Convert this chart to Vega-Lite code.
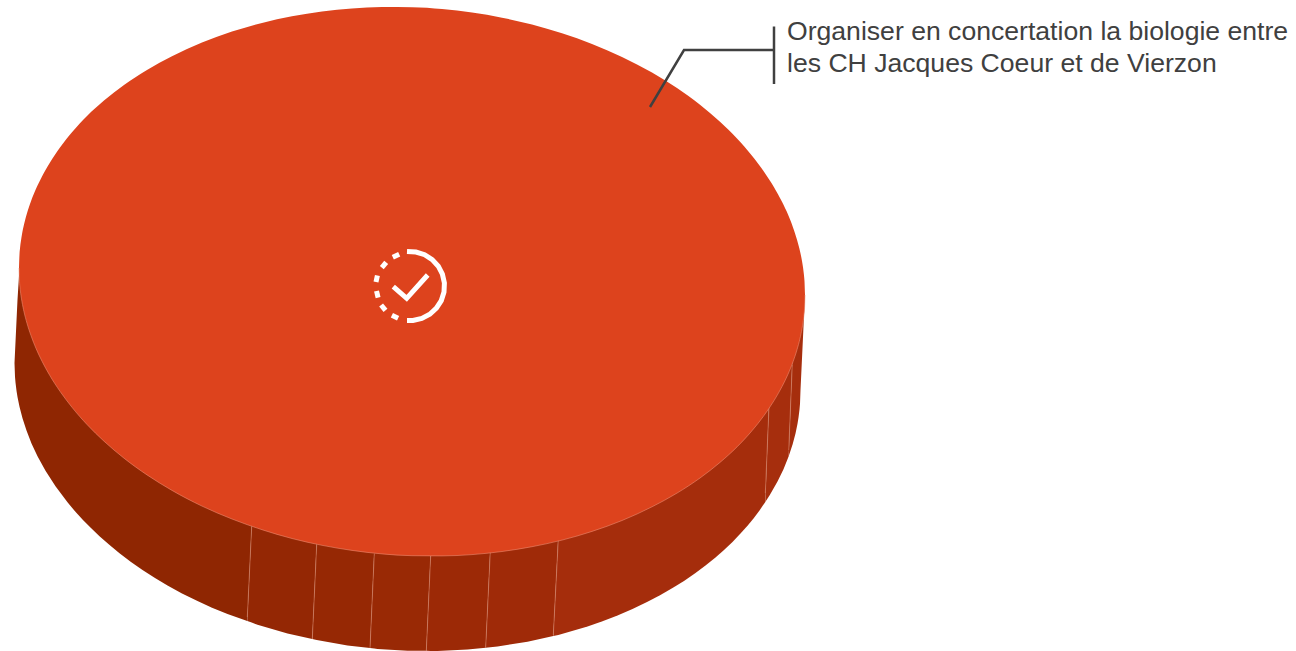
{"$schema":"https://vega.github.io/schema/vega-lite/v6.json","width":1296,"height":651,"autosize":{"type":"none"},"padding":0,"background":"white","view":{"stroke":null},
"datasets":{
"wall":[
{"seg":"A","x":14.5,"y":363,"y2":363},{"seg":"A","x":15,"y":352.4,"y2":376.8},{"seg":"A","x":15.5,"y":341.9,"y2":382.5},{"seg":"A","x":16.5,"y":320.8,"y2":390.7},{"seg":"A","x":17.5,"y":299.7,"y2":396.9},{"seg":"A","x":19.5,"y":268,"y2":406.8},{"seg":"A","x":22.5,"y":280,"y2":418.3},{"seg":"A","x":26.5,"y":300,"y2":430.6},{"seg":"A","x":31.5,"y":300,"y2":443.4},{"seg":"A","x":37.5,"y":300,"y2":456.2},{"seg":"A","x":45.5,"y":300,"y2":470.8},{"seg":"A","x":55.5,"y":300,"y2":486.3},{"seg":"A","x":67.5,"y":300,"y2":502.3},{"seg":"A","x":75,"y":300,"y2":511.3},{"seg":"A","x":82.5,"y":300,"y2":519.5},{"seg":"A","x":91,"y":300,"y2":528.1},{"seg":"A","x":99.5,"y":300,"y2":536.2},{"seg":"A","x":109,"y":300,"y2":544.6},{"seg":"A","x":119.5,"y":300,"y2":553.2},{"seg":"A","x":131,"y":300,"y2":561.9},{"seg":"A","x":142.5,"y":300,"y2":569.9},{"seg":"A","x":155,"y":300,"y2":577.9},{"seg":"A","x":167.5,"y":300,"y2":585.4},{"seg":"A","x":182,"y":300,"y2":593.4},{"seg":"A","x":197.5,"y":300,"y2":601.1},{"seg":"A","x":212,"y":300,"y2":607.7},{"seg":"A","x":227.5,"y":300,"y2":614},{"seg":"A","x":247.3,"y":300,"y2":621.1},{"seg":"A","x":251.7,"y":524,"y2":524},
{"seg":"B","x":247.3,"y":621.1,"y2":621.1},{"seg":"B","x":251.7,"y":524,"y2":622.6},{"seg":"B","x":257.5,"y":300,"y2":624.7},{"seg":"B","x":287.5,"y":300,"y2":633.5},{"seg":"B","x":312.3,"y":300,"y2":639.1},{"seg":"B","x":316.7,"y":541,"y2":541},
{"seg":"C","x":312.3,"y":639.1,"y2":639.1},{"seg":"C","x":316.7,"y":541,"y2":640.1},{"seg":"C","x":347.5,"y":300,"y2":645.4},{"seg":"C","x":370,"y":300,"y2":648},{"seg":"C","x":374.3,"y":550,"y2":550},
{"seg":"D","x":370,"y":648,"y2":648},{"seg":"D","x":374.3,"y":550,"y2":648.5},{"seg":"D","x":377.5,"y":300,"y2":648.9},{"seg":"D","x":407.5,"y":300,"y2":650.7},{"seg":"D","x":426.3,"y":300,"y2":650.8},{"seg":"D","x":430.7,"y":552,"y2":552},
{"seg":"E","x":426.3,"y":650.8,"y2":650.8},{"seg":"E","x":430.7,"y":552,"y2":650.9},{"seg":"E","x":437.5,"y":300,"y2":650.9},{"seg":"E","x":467.5,"y":300,"y2":649.6},{"seg":"E","x":485.7,"y":300,"y2":647.7},{"seg":"E","x":490.3,"y":548,"y2":548},
{"seg":"F","x":485.7,"y":647.7,"y2":647.7},{"seg":"F","x":490.3,"y":548,"y2":647.2},{"seg":"F","x":497.5,"y":300,"y2":646.5},{"seg":"F","x":527.5,"y":300,"y2":641.7},{"seg":"F","x":553.3,"y":300,"y2":636},{"seg":"F","x":558.3,"y":536,"y2":536},
{"seg":"G","x":553.3,"y":636,"y2":636},{"seg":"G","x":558.3,"y":536,"y2":634.9},{"seg":"G","x":587.5,"y":300,"y2":626.4},{"seg":"G","x":602.5,"y":300,"y2":621.3},{"seg":"G","x":617.5,"y":300,"y2":615.5},{"seg":"G","x":632.5,"y":300,"y2":609},{"seg":"G","x":647.5,"y":300,"y2":601.8},{"seg":"G","x":660,"y":300,"y2":595.3},{"seg":"G","x":672.5,"y":300,"y2":588.1},{"seg":"G","x":684,"y":300,"y2":580.9},{"seg":"G","x":695.5,"y":300,"y2":573},{"seg":"G","x":705.5,"y":300,"y2":565.5},{"seg":"G","x":715.5,"y":300,"y2":557.4},{"seg":"G","x":724,"y":300,"y2":549.9},{"seg":"G","x":732.5,"y":300,"y2":541.9},{"seg":"G","x":740,"y":300,"y2":534.1},{"seg":"G","x":747.5,"y":300,"y2":525.7},{"seg":"G","x":753.5,"y":300,"y2":518.4},{"seg":"G","x":759.5,"y":300,"y2":510.5},{"seg":"G","x":765.3,"y":300,"y2":501.9},{"seg":"G","x":769,"y":402,"y2":402},
{"seg":"H","x":765.3,"y":501.9,"y2":501.9},{"seg":"H","x":769,"y":402,"y2":496.3},{"seg":"H","x":769.5,"y":300,"y2":495.6},{"seg":"H","x":777.5,"y":300,"y2":481.6},{"seg":"H","x":783.5,"y":300,"y2":469.2},{"seg":"H","x":788.7,"y":300,"y2":456.2},{"seg":"H","x":792.3,"y":360,"y2":360},
{"seg":"I","x":788.7,"y":456.2,"y2":456.2},{"seg":"I","x":792.3,"y":360,"y2":445.3},{"seg":"I","x":792.5,"y":300,"y2":444.7},{"seg":"I","x":795.5,"y":300,"y2":433.4},{"seg":"I","x":797.5,"y":300,"y2":423.7},{"seg":"I","x":798.5,"y":300,"y2":417.5},{"seg":"I","x":799.5,"y":300,"y2":409.5},{"seg":"I","x":800,"y":300,"y2":403.8},{"seg":"I","x":800.5,"y":300,"y2":390},{"seg":"I","x":805,"y":295,"y2":295}],
"top":[
{"x":19,"y":268,"y2":268},{"x":19.5,"y":254.2,"y2":281.8},{"x":20,"y":248.5,"y2":287.5},{"x":21,"y":240.5,"y2":295.7},{"x":22,"y":234.3,"y2":301.9},{"x":24,"y":224.6,"y2":311.8},{"x":27,"y":213.3,"y2":323.3},{"x":31,"y":201.2,"y2":335.6},{"x":36,"y":188.8,"y2":348.4},{"x":42,"y":176.4,"y2":361.2},{"x":50,"y":162.4,"y2":375.8},{"x":60,"y":147.5,"y2":391.3},{"x":72,"y":132.3,"y2":407.3},{"x":87,"y":116.1,"y2":424.5},{"x":104,"y":100.6,"y2":441.2},{"x":124,"y":85,"y2":458.2},{"x":147,"y":69.9,"y2":474.9},{"x":172,"y":56.2,"y2":490.4},{"x":202,"y":42.5,"y2":506.1},{"x":232,"y":31.6,"y2":519},{"x":262,"y":22.9,"y2":529.7},{"x":292,"y":16.3,"y2":538.5},{"x":322,"y":11.5,"y2":545.3},{"x":352,"y":8.4,"y2":550.4},{"x":382,"y":7.1,"y2":553.9},{"x":412,"y":7.3,"y2":555.7},{"x":442,"y":9.1,"y2":555.9},{"x":472,"y":12.6,"y2":554.6},{"x":502,"y":17.7,"y2":551.5},{"x":532,"y":24.5,"y2":546.7},{"x":562,"y":33.3,"y2":540.1},{"x":592,"y":44,"y2":531.4},{"x":622,"y":56.9,"y2":520.5},{"x":652,"y":72.6,"y2":506.8},{"x":677,"y":88.1,"y2":493.1},{"x":700,"y":104.8,"y2":478},{"x":720,"y":121.8,"y2":462.4},{"x":737,"y":138.5,"y2":446.9},{"x":752,"y":155.7,"y2":430.7},{"x":764,"y":171.7,"y2":415.5},{"x":774,"y":187.2,"y2":400.6},{"x":782,"y":201.8,"y2":386.6},{"x":788,"y":214.6,"y2":374.2},{"x":793,"y":227.4,"y2":361.8},{"x":797,"y":239.7,"y2":349.7},{"x":800,"y":251.2,"y2":338.4},{"x":802,"y":261.1,"y2":328.7},{"x":803,"y":267.3,"y2":322.5},{"x":804,"y":275.5,"y2":314.5},{"x":804.5,"y":281.2,"y2":308.8},{"x":805,"y":295,"y2":295}],
"seams":[
{"s":"1","x":251.7,"y":527},{"s":"1","x":247.3,"y":617},
{"s":"2","x":316.7,"y":545},{"s":"2","x":312.3,"y":639},
{"s":"3","x":374.3,"y":554},{"s":"3","x":370,"y":648},
{"s":"4","x":430.7,"y":556},{"s":"4","x":426.3,"y":651},
{"s":"5","x":490.3,"y":552},{"s":"5","x":485.7,"y":647},
{"s":"6","x":558.3,"y":540},{"s":"6","x":553.3,"y":635},
{"s":"7","x":769,"y":407},{"s":"7","x":765.3,"y":493},
{"s":"8","x":792.3,"y":365},{"s":"8","x":788.7,"y":450}],
"icon":[
{"p":"arc","i":0,"x":407,"y":251.6},{"p":"arc","i":1,"x":416,"y":252},{"p":"arc","i":2,"x":424.6,"y":254.7},{"p":"arc","i":3,"x":432.2,"y":259.6},{"p":"arc","i":4,"x":438.3,"y":266.2},{"p":"arc","i":5,"x":442.4,"y":274.2},{"p":"arc","i":6,"x":444.4,"y":283},{"p":"arc","i":7,"x":444,"y":292},{"p":"arc","i":8,"x":441.3,"y":300.6},{"p":"arc","i":9,"x":436.4,"y":308.2},{"p":"arc","i":10,"x":429.8,"y":314.3},{"p":"arc","i":11,"x":421.8,"y":318.4},{"p":"arc","i":12,"x":413,"y":320.4},{"p":"arc","i":13,"x":407,"y":320.4},
{"p":"d1","i":0,"x":392.8,"y":257.2},{"p":"d1","i":1,"x":399.2,"y":254.2},
{"p":"d2","i":0,"x":381.8,"y":267.7},{"p":"d2","i":1,"x":386.2,"y":262.3},
{"p":"d3","i":0,"x":376,"y":282},{"p":"d3","i":1,"x":377.4,"y":275.4},
{"p":"d4","i":0,"x":378.1,"y":297.6},{"p":"d4","i":1,"x":376.5,"y":291},
{"p":"d5","i":0,"x":381.1,"y":305},{"p":"d5","i":1,"x":385.5,"y":310.4},
{"p":"d6","i":0,"x":391.9,"y":315.2},{"p":"d6","i":1,"x":398.1,"y":318.2},
{"p":"check","i":0,"x":393.3,"y":286.7},{"p":"check","i":1,"x":406.7,"y":298.3},{"p":"check","i":2,"x":427.7,"y":275}],
"leader":[
{"p":"elbow","i":0,"x":650,"y":107},{"p":"elbow","i":1,"x":684,"y":50},{"p":"elbow","i":2,"x":774,"y":50},
{"p":"bar","i":0,"x":774,"y":26.5},{"p":"bar","i":1,"x":774,"y":84}],
"labels":[
{"x":787,"y":40,"label":"Organiser en concertation la biologie entre"},
{"x":787,"y":72,"label":"les CH Jacques Coeur et de Vierzon"}]
},
"encoding":{
"x":{"field":"x","type":"quantitative","scale":{"domain":[0,1296],"nice":false,"zero":false},"axis":null},
"y":{"field":"y","type":"quantitative","scale":{"domain":[651,0],"nice":false,"zero":false},"axis":null}},
"layer":[
{"data":{"name":"wall"},"mark":{"type":"area","interpolate":"linear"},"encoding":{"y2":{"field":"y2"},"color":{"field":"seg","type":"nominal","legend":null,"scale":{"domain":["A","B","C","D","E","F","G","H","I"],"range":["#8f2602","#942704","#962804","#992905","#9c2906","#9f2a08","#a52d0c","#a62e0d","#a62e0d"]}}}},
{"data":{"name":"seams"},"mark":{"type":"line","stroke":"#d98a70","strokeWidth":0.8,"opacity":0.7},"encoding":{"detail":{"field":"s"}}},
{"data":{"name":"top"},"mark":{"type":"area","interpolate":"monotone","color":"#dd431d"},"encoding":{"y2":{"field":"y2"}}},
{"data":{"name":"top"},"mark":{"type":"line","interpolate":"monotone","stroke":"#ee9077","strokeWidth":0.7,"opacity":0.8},"encoding":{"y":{"field":"y2","type":"quantitative"}}},
{"data":{"name":"icon"},"mark":{"type":"line","stroke":"white","strokeWidth":5,"strokeJoin":"miter","strokeCap":"butt"},"encoding":{"detail":{"field":"p"},"order":{"field":"i"}}},
{"data":{"name":"leader"},"mark":{"type":"line","stroke":"#404040","strokeWidth":2.5,"strokeJoin":"miter"},"encoding":{"detail":{"field":"p"},"order":{"field":"i"}}},
{"data":{"name":"labels"},"mark":{"type":"text","font":"Liberation Sans","fontSize":26.6,"align":"left","baseline":"alphabetic","color":"#404040"},"encoding":{"text":{"field":"label"}}}
]}
